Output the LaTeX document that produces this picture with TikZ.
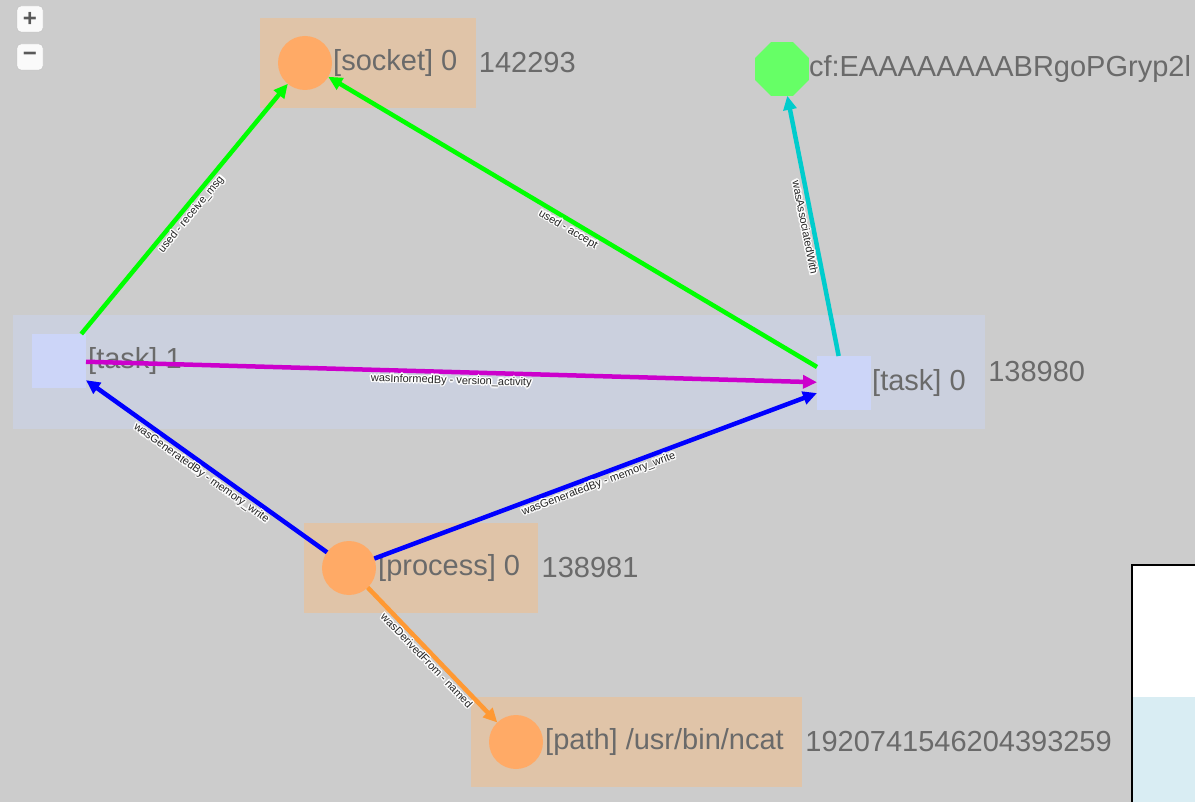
\documentclass[tikz,border=0pt]{standalone}
\usepackage{fontspec}
\setmainfont{Liberation Sans}
\usetikzlibrary{positioning,fit,backgrounds,shapes.geometric,arrows.meta}

\definecolor{canvas}{HTML}{CCCCCC}
\definecolor{groupbox}{HTML}{E0C4A8}
\definecolor{taskgroup}{HTML}{CBD0DE}
\definecolor{taskfill}{HTML}{CCD5F8}
\definecolor{entfill}{HTML}{FFAA66}
\definecolor{agentfill}{HTML}{66FF66}
\definecolor{lblgray}{HTML}{6A6A6A}
\definecolor{usedgreen}{HTML}{00FF00}
\definecolor{genblue}{HTML}{0000FF}
\definecolor{infmagenta}{HTML}{CC00CC}
\definecolor{assoccyan}{HTML}{00CCCC}
\definecolor{derivorange}{HTML}{FF9933}
\definecolor{panelblue}{HTML}{D9EDF3}

% white outline round the small edge texts
\newcommand\halo[1]{%
  \foreach \hx/\hy in {1.5/0,-1.5/0,0/1.5,0/-1.5,1.1/1.1,-1.1/1.1,1.1/-1.1,-1.1/-1.1,0.75/0,-0.75/0,0/0.75,0/-0.75}{%
    \rlap{\hspace*{\hx pt}\raisebox{\hy pt}{\textcolor{white}{#1}}}}%
  #1}

\tikzset{
  entity/.style={circle, fill=entfill, minimum size=54pt, inner sep=0pt, outer sep=0pt},
  activity/.style={rectangle, fill=taskfill, minimum size=54pt, inner sep=0pt, outer sep=0pt},
  agent/.style={regular polygon, regular polygon sides=8, fill=agentfill, minimum size=58pt, inner sep=0pt, outer sep=0pt},
  nodelbl/.style={inner sep=0pt, text=lblgray, font=\fontsize{29}{31}\selectfont},
  group/.style={inner sep=18pt, fill=groupbox},
  rel/.style={line width=4.5pt, -{Triangle[length=14pt,width=13pt]}},
  rellbl/.style={midway, sloped, anchor=north, inner sep=0pt, text=black!85, font=\fontsize{11}{11}\selectfont},
  zoombtn/.style={draw=black!25, fill=black!2, rounded corners=4pt, minimum size=26pt, inner sep=0pt, text=black!65, font=\bfseries\fontsize{24}{24}\selectfont}
}

\begin{document}
\begin{tikzpicture}[x=1pt, y=-1pt]
    \clip (0,0) rectangle (1195,802);

    % zoom buttons
    \node[zoombtn] (zoomin) at (30,19) {+};
    \node[zoombtn] (zoomout) at (30,57) {−};

    % nodes
    \node[entity] (socket) at (305,63) {};
    \node[nodelbl, right=1pt of socket] (socketlbl) {[socket] 0};
    \node[agent] (cf) at (782,69) {};
    \node[nodelbl, right=0pt of cf] (cflbl) {cf:EAAAAAAAABRgoPGryp2l};
    \node[activity] (task1) at (59,361) {};
    \node[nodelbl, right=2pt of task1] (task1lbl) {[task] 1};
    \node[activity] (task0) at (844,383) {};
    \node[nodelbl, right=1pt of task0] (task0lbl) {[task] 0};
    \node[entity] (process) at (349,568) {};
    \node[nodelbl, right=2pt of process] (processlbl) {[process] 0};
    \node[entity] (path) at (516,742) {};
    \node[nodelbl, right=2pt of path] (pathlbl) {[path] /usr/bin/ncat};

    % canvas and group boxes
    \begin{scope}[on background layer]
        \fill[canvas] (0,0) rectangle (1195,802);
        \node[group, fit=(socket)(socketlbl)] (socketgrp) {};
        \node[group, fill=taskgroup, inner sep=19pt, fit=(task1)(task0)(task1lbl)(task0lbl)] (taskgrp) {};
        \node[group, fit=(process)(processlbl)] (processgrp) {};
        \node[group, fit=(path)(pathlbl)] (pathgrp) {};
    \end{scope}

    % ids beside the groups
    \node[nodelbl, right=3pt of socketgrp] {142293};
    \node[nodelbl, right=3pt of taskgrp] {138980};
    \node[nodelbl, right=3pt of processgrp] {138981};
    \node[nodelbl, right=3pt of pathgrp] {1920741546204393259};

    % relations
    \draw[rel, usedgreen] (task1) -- node[rellbl] {\halo{used - receive\_msg}} (socket);
    \draw[rel, usedgreen] (task0) -- node[rellbl] {\halo{used - accept}} (socket);
    \draw[rel, assoccyan] (task0) -- node[rellbl] {\halo{wasAssociatedWith}} (cf);
    \draw[rel, infmagenta] (task1) -- node[rellbl] {\halo{wasInformedBy - version\_activity}} (task0);
    \draw[rel, genblue] (process) -- node[rellbl] {\halo{wasGeneratedBy - memory\_write}} (task1);
    \draw[rel, genblue] (process) -- node[rellbl] {\halo{wasGeneratedBy - memory\_write}} (task0);
    \draw[rel, derivorange] (process) -- node[rellbl] {\halo{wasDerivedFrom - named}} (path);

    % side panel
    \fill[white] (1131,564) rectangle (1200,697);
    \fill[panelblue] (1131,697) rectangle (1200,806);
    \draw[line width=2pt] (1132,806) -- (1132,565) -- (1200,565);
\end{tikzpicture}
\end{document}
